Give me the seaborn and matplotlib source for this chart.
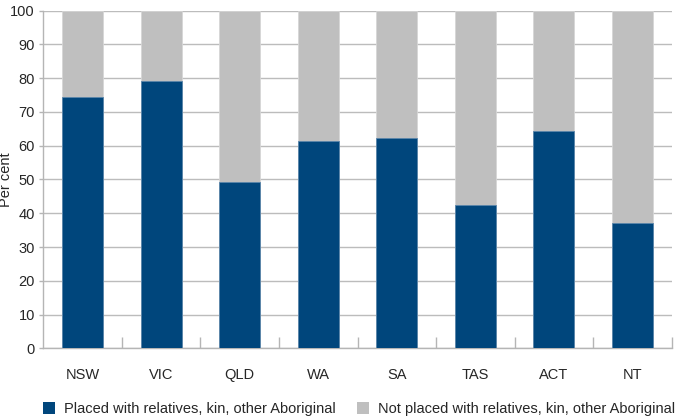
import matplotlib
matplotlib.use("Agg")
import matplotlib.pyplot as plt
from matplotlib.patches import Patch
import seaborn as sns
import pandas as pd

states = ["NSW", "VIC", "QLD", "WA", "SA", "TAS", "ACT", "NT"]
placed = [74.4, 79.3, 49.2, 61.3, 62.4, 42.4, 64.4, 37.0]
not_placed = [25.6, 20.7, 50.8, 38.7, 37.6, 57.6, 35.6, 63.0]
series_names = ["Placed with relatives, kin, other Aboriginal",
                "Not placed with relatives, kin, other Aboriginal"]
blue = "#00467c"
grey = "#bfbfbf"

sns.set_style("white")
plt.rcParams["font.family"] = ["Liberation Sans", "DejaVu Sans"]

df = pd.DataFrame({"state": states, "placed": placed, "not_placed": not_placed})
df["total"] = df["placed"] + df["not_placed"]

fig = plt.figure(figsize=(6.75, 4.19), dpi=100)
ax = fig.add_axes([43.3/675, 1-348.3/419, (671.7-43.3)/675, (348.3-10.7)/419])

sns.barplot(data=df, x="state", y="total", color=grey, width=0.52, ax=ax,
            saturation=1, edgecolor="#d6d6d6", linewidth=0.6, zorder=2)
sns.barplot(data=df, x="state", y="placed", color=blue, width=0.52, ax=ax,
            saturation=1, edgecolor="#5b86ab", linewidth=0.6, zorder=3)

ax.set_ylim(0, 100)
ax.set_xlim(-0.5, len(states) - 0.5)
ax.set_yticks(range(0, 101, 10))
ax.yaxis.grid(True, color="#bcbcbc", linewidth=1.0, zorder=0)
ax.set_axisbelow(True)
ax.set_xlabel("")
ax.set_ylabel("Per cent", fontsize=10.5)
ax.yaxis.set_label_coords(-30.5/628.4, 0.5)

for s in ["top", "right"]:
    ax.spines[s].set_visible(False)
for s in ["left", "bottom"]:
    ax.spines[s].set_color("#b5b5b5")
    ax.spines[s].set_linewidth(1.0)

ax.tick_params(axis="y", which="major", length=3, width=1, color="#b5b5b5",
               labelsize=10.5, pad=3, left=True)
ax.set_xticks([i + 0.5 for i in range(len(states) - 1)] + [len(states) - 0.5], minor=True)
ax.set_xticks(range(len(states)))
ax.set_xticklabels(states)
ax.tick_params(axis="x", which="major", length=0, labelsize=10.5, pad=14)
ax.tick_params(axis="x", which="minor", length=8, width=1, color="#b5b5b5", direction="in", bottom=True)

handles = [Patch(facecolor=blue, edgecolor="none"), Patch(facecolor=grey, edgecolor="none")]
fig.legend(handles, series_names, loc="lower left", bbox_to_anchor=(40/675, 0.0),
           ncol=2, frameon=False, fontsize=10.5, handlelength=0.85, handleheight=0.85,
           handletextpad=0.6, columnspacing=1.45, borderpad=0.2, borderaxespad=0)

fig.savefig("out.png", dpi=100)
